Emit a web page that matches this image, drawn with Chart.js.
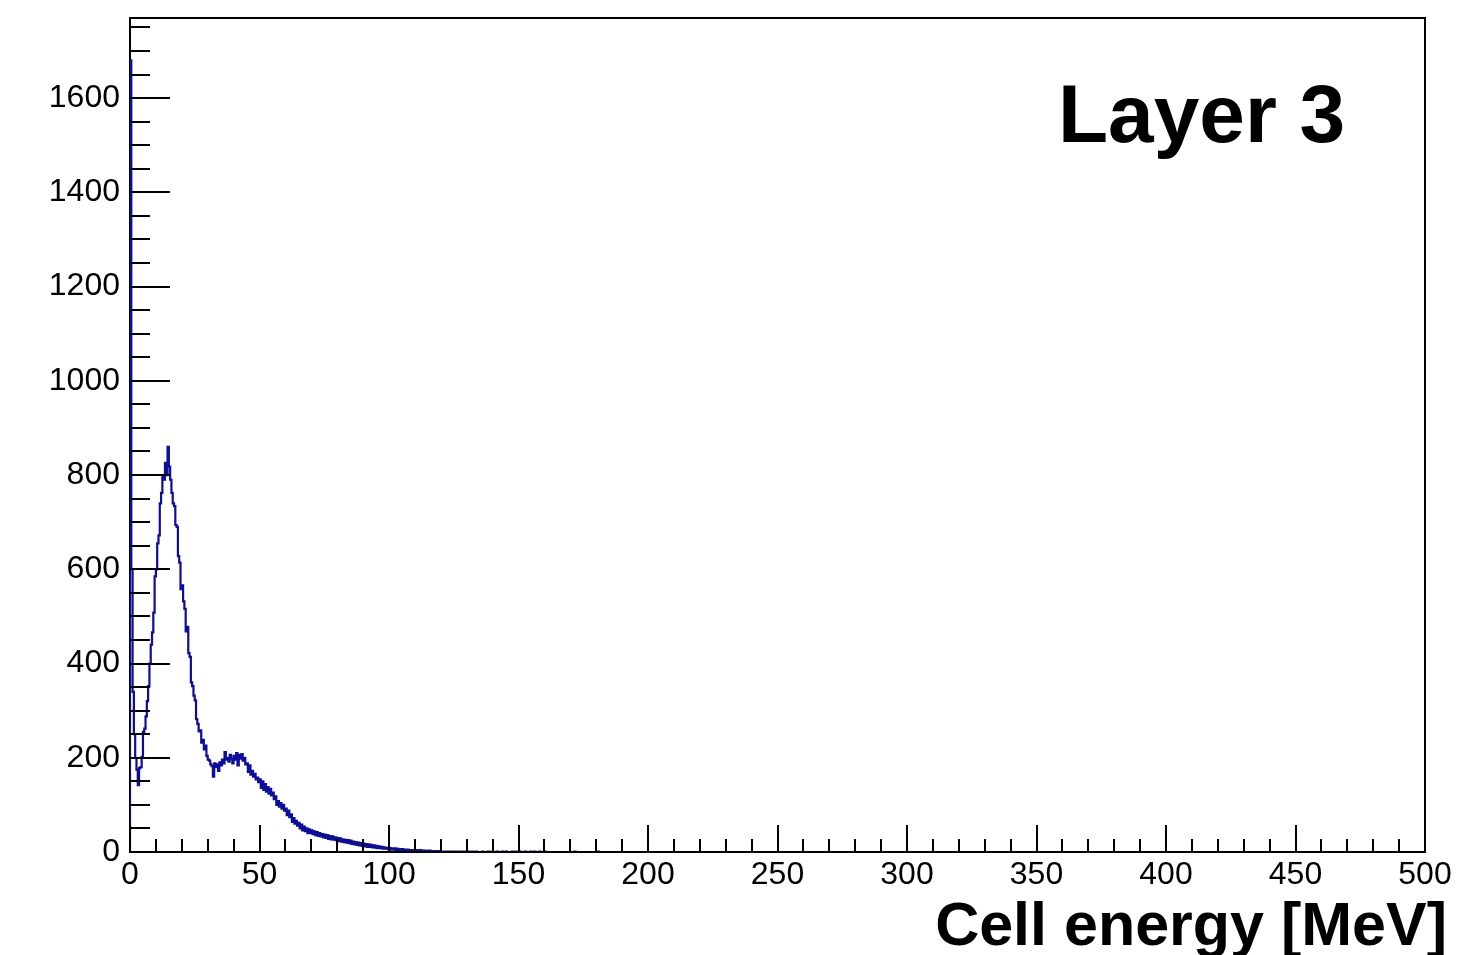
<!DOCTYPE html>
<html><head><meta charset="utf-8">
<script src="https://cdn.jsdelivr.net/npm/chart.js@4.4.1/dist/chart.umd.min.js"></script>
<style>html,body{margin:0;padding:0;background:#fff}canvas{display:block}</style>
</head><body>
<canvas id="c" width="1475" height="955"></canvas>
<script>
// Histogram: 0.5 MeV bins starting at 0 MeV
const binWidth = 0.5;
const counts = [
  // 0-5
  1680, 600, 340, 250, 200, 175, 142, 178, 180, 202,
  // 5-10
  255, 262, 288, 320, 352, 400, 440, 466, 508, 585,
  // 10-15
  600, 655, 672, 740, 762, 798, 790, 826, 800, 860,
  // 15-20
  818, 790, 762, 740, 734, 694, 690, 628, 614, 558,
  // 20-25
  566, 532, 516, 468, 478, 422, 414, 360, 352, 332,
  // 25-30
  322, 282, 272, 256, 258, 232, 238, 218, 226, 204,
  // 30-35
  196, 194, 186, 182, 160, 188, 180, 186, 172, 190,
  // 35-40
  184, 196, 188, 212, 196, 200, 192, 206, 198, 188,
  // 40-45
  204, 196, 210, 184, 206, 198, 208, 194, 200, 186,
  // 45-50
  188, 170, 184, 164, 172, 160, 166, 154, 158, 148,
  // 50-55
  154, 136, 150, 132, 144, 128, 138, 124, 134, 120,
  // 55-60
  126, 112, 118, 100, 108, 96, 104, 92, 100, 88,
  // 60-65
  92, 78, 88, 74, 80, 64, 72, 60, 66, 56,
  // 65-70
  62, 50, 58, 46, 54, 44, 50, 40, 48, 40,
  // 70-75
  46, 38, 44, 36, 42, 34, 40, 33, 38, 31,
  // 75-80
  37, 30, 36, 28, 34, 27, 33, 26, 31, 25,
  // 80-85
  30, 23, 29, 22, 27, 21, 26, 20, 25, 19,
  // 85-90
  24, 17, 22, 16, 21, 15, 20, 14, 19, 13,
  // 90-95
  18, 12, 17, 11, 16, 11, 15, 10, 14, 9,
  // 95-100
  13, 8, 12, 8, 11, 7, 10, 7, 9, 6,
  // 100-105
  9, 5, 8, 5, 8, 4, 7, 4, 6, 4,
  // 105-110
  6, 3, 5, 3, 5, 2, 4, 3, 4, 2,
  // 110-115
  3, 4, 3, 3, 4, 3, 2, 3, 3, 2,
  // 115-120
  2, 3, 2, 2, 1, 2, 2, 1, 2, 1,
  // 120-125
  1, 1, 0, 1, 1, 0, 1, 1, 1, 0,
  // 125-130
  1, 0, 1, 1, 0, 1, 0, 0, 1, 0,
  // 130-135
  0, 1, 0, 0, 1, 0, 0, 1, 0, 0,
  // 135-140
  0, 0, 1, 0, 0, 0, 1, 1, 0, 0,
  // 140-145
  0, 0, 0, 1, 0, 0, 0, 1, 0, 0,
  // 145-150
  1, 0, 0, 0, 0, 1, 0, 0, 1, 1,
  // 150-155
  0, 1, 0, 0, 0, 1, 0, 0, 0, 1,
  // 155-160
  0, 0, 1, 0, 0, 0, 1, 0, 0, 0,
  // 160-165
  1, 0, 0, 0, 0, 0, 0, 0, 0, 0,
  // 165-170
  0, 0, 0, 0, 0, 0, 0, 0, 0, 0,
  // 170-175
  0, 0, 0, 1, 0, 0, 0, 0, 0, 0,
  // 175-180
  0, 0, 0, 0, 0, 0, 0, 0, 0, 0,
  // 180-185
  0, 1, 0, 0, 0, 0, 0, 0, 0, 0
];
const xRange = [0, 500];
const yRange = [0, 1770];
const xTickLabels = [0, 50, 100, 150, 200, 250, 300, 350, 400, 450, 500];
const yTickLabels = [0, 200, 400, 600, 800, 1000, 1200, 1400, 1600];
const xMinorStep = 10;
const yMinorStep = 50;
const xTitle = 'Cell energy [MeV]';
const panelLabel = 'Layer 3';

const FONT = '"Liberation Sans", Arial, Helvetica, sans-serif';

// Build histogram outline points (value of each point holds until the next point)
const points = [{x: 0, y: 0}];
counts.forEach((c, i) => points.push({x: i * binWidth, y: c}));
points.push({x: counts.length * binWidth, y: 0});
points.push({x: xRange[1], y: 0});

const framePlugin = {
  id: 'rootFrame',
  beforeDatasetsDraw(chart) {
    const {ctx, chartArea: a} = chart;
    ctx.save();
    ctx.strokeStyle = '#000';
    ctx.lineWidth = 2;
    ctx.beginPath();
    ctx.rect(a.left, a.top, a.right - a.left, a.bottom - a.top);
    ctx.stroke();
    ctx.restore();
  },
  afterDatasetsDraw(chart) {
    const {ctx, chartArea: a, scales} = chart;
    const xs = scales.x, ys = scales.y;
    ctx.save();
    ctx.strokeStyle = '#000';
    ctx.lineWidth = 2;
    ctx.beginPath();
    // bottom axis line
    ctx.moveTo(a.left - 1, a.bottom);
    ctx.lineTo(a.right + 1, a.bottom);
    // y ticks
    for (let v = yRange[0]; v <= yRange[1]; v += yMinorStep) {
      const py = Math.round(ys.getPixelForValue(v));
      const major = yTickLabels.includes(v);
      const len = major ? 40 : 20;
      ctx.moveTo(a.left, py);
      ctx.lineTo(a.left + len, py);
    }
    // x ticks
    for (let v = xRange[0]; v <= xRange[1]; v += xMinorStep) {
      const px = Math.round(xs.getPixelForValue(v));
      const major = xTickLabels.includes(v);
      const len = major ? 27 : 13;
      ctx.moveTo(px, a.bottom);
      ctx.lineTo(px, a.bottom - len);
    }
    ctx.stroke();
    ctx.restore();
  },
  afterDraw(chart) {
    const {ctx} = chart;
    ctx.save();
    ctx.fillStyle = '#000';
    ctx.textBaseline = 'alphabetic';
    ctx.font = 'bold 82px ' + FONT;
    ctx.textAlign = 'left';
    ctx.fillText(panelLabel, 1058, 142);
    ctx.font = 'bold 61px ' + FONT;
    ctx.textAlign = 'right';
    ctx.fillText(xTitle, 1447, 945);
    ctx.restore();
  }
};

new Chart(document.getElementById('c').getContext('2d'), {
  type: 'line',
  data: {
    datasets: [{
      data: points,
      stepped: 'before',
      borderColor: '#0c0c9e',
      borderWidth: 2.2,
      pointRadius: 0,
      fill: false,
      tension: 0
    }]
  },
  options: {
    responsive: false,
    animation: false,
    devicePixelRatio: 1,
    parsing: false,
    layout: {padding: {top: 18, right: 50, left: 0, bottom: 0}},
    plugins: {legend: {display: false}, tooltip: {enabled: false}, title: {display: false}},
    scales: {
      x: {
        type: 'linear', min: xRange[0], max: xRange[1],
        afterFit(s) { s.height = 103; },
        afterBuildTicks(s) { s.ticks = xTickLabels.map(v => ({value: v})); },
        grid: {display: false}, border: {display: false},
        ticks: {font: {family: FONT, size: 32}, color: '#000', padding: -4, maxRotation: 0, autoSkip: false,
                callback: v => String(v)}
      },
      y: {
        type: 'linear', min: yRange[0], max: yRange[1],
        afterFit(s) { s.width = 130; s.paddingTop = 0; s.paddingBottom = 0; },
        afterBuildTicks(s) { s.ticks = yTickLabels.map(v => ({value: v})); },
        grid: {display: false}, border: {display: false},
        ticks: {font: {family: FONT, size: 32}, color: '#000', padding: 2, autoSkip: false,
                callback: v => String(v)}
      }
    }
  },
  plugins: [framePlugin]
});
</script>
</body></html>
